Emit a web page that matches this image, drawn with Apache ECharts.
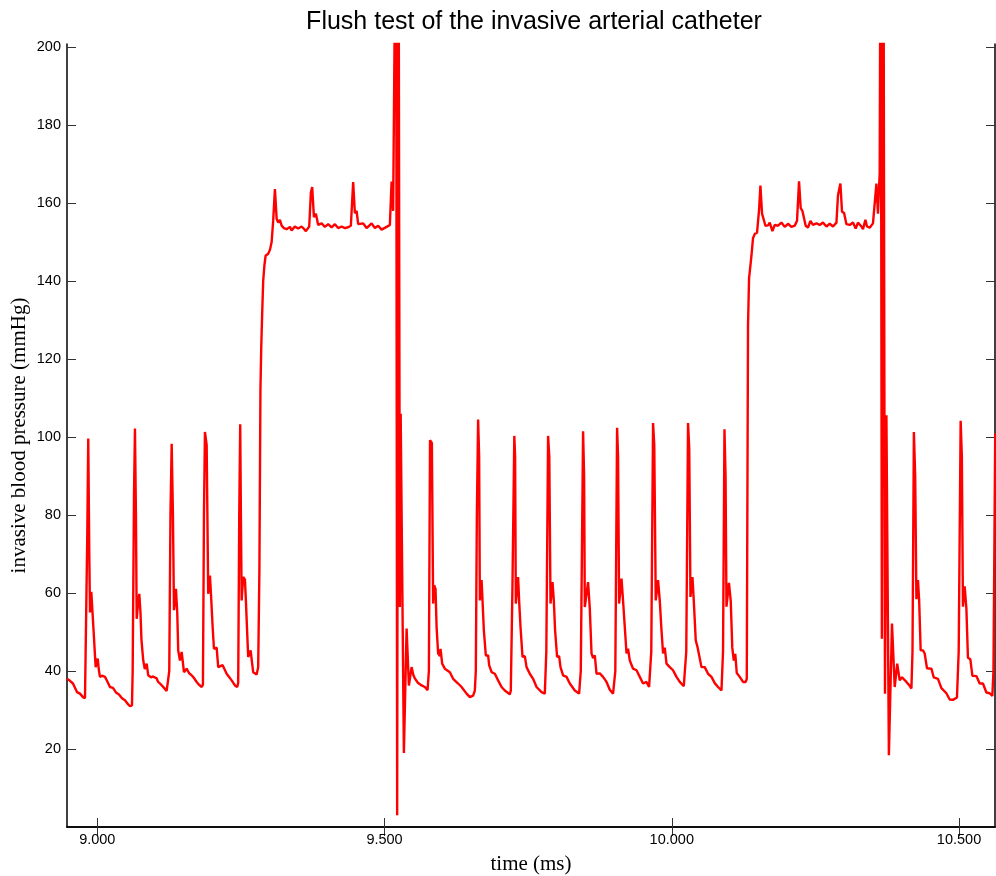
<!DOCTYPE html>
<html>
<head>
<meta charset="utf-8">
<script src="https://cdn.jsdelivr.net/npm/echarts@6/dist/echarts.min.js"></script>
<style>
html,body{margin:0;padding:0;background:#fff;}
#chart{width:996px;height:876px;}
</style>
</head>
<body>
<div id="chart"></div>
<script>
// ---- data ----
const chartTitle = 'Flush test of the invasive arterial catheter';
const xName = 'time (ms)';
const yName = 'invasive blood pressure (mmHg)';
const xTickValues = [9.0, 9.5, 10.0, 10.5];
const yTickValues = [20, 40, 60, 80, 100, 120, 140, 160, 180, 200];
const xRange = [8.9473, 10.5626];
const yRange = [0, 200.8];

// time (ms)
const timeMs = [
8.9473,8.9525,8.9577,8.9647,8.9699,8.9751,8.9786,
8.9809,8.9826,8.9843,8.9861,8.9873,8.9896,8.9920,8.9937,8.9960,8.9972,8.9990,9.0007,9.0030,9.0047,9.0082,9.0134,9.0169,9.0221,9.0273,9.0325,9.0378,9.0430,9.0482,9.0534,9.0569,9.0604,
9.0616,9.0639,9.0656,9.0673,9.0686,9.0708,9.0731,9.0752,9.0769,9.0800,9.0827,9.0860,9.0887,9.0934,9.0969,9.1034,9.1056,9.1091,9.1143,9.1208,9.1235,
9.1253,9.1274,9.1295,9.1317,9.1335,9.1352,9.1369,9.1392,9.1409,9.1439,9.1469,9.1509,9.1556,9.1596,9.1643,9.1683,9.1730,9.1770,9.1817,9.1839,
9.1857,9.1874,9.1904,9.1931,9.1961,9.1978,9.2008,9.2031,9.2078,9.2105,9.2182,9.2252,9.2339,9.2396,9.2436,9.2453,
9.2471,9.2488,9.2500,9.2513,9.2540,9.2570,9.2587,9.2610,9.2627,9.2669,9.2687,9.2714,9.2774,9.2801,
9.2822,9.2840,9.2854,9.2871,9.2888,9.2909,9.2930,9.2975,9.3005,9.3035,9.3062,9.3092,9.3122,9.3149,9.3179,9.3209,9.3249,9.3296,9.3353,9.3383,9.3440,9.3497,9.3557,9.3597,9.3631,9.3689,9.3718,9.3741,9.3771,9.3805,9.3845,9.3905,9.3962,9.4019,9.4079,9.4136,9.4193,9.4253,9.4310,9.4367,9.4414,9.4454,9.4484,9.4514,9.4541,9.4628,9.4688,9.4775,9.4832,9.4889,9.4949,9.5036,9.5093,9.5123,9.5150,9.5180,
9.5201,9.5220,9.5243,9.5267,9.5281,9.5337,9.5384,9.5424,9.5471,9.5502,9.5528,9.5580,9.5645,9.5702,9.5749,9.5772,
9.5792,9.5824,9.5846,9.5864,9.5888,9.5906,9.5933,9.5963,9.5975,9.6003,9.6050,9.6137,9.6194,9.6281,9.6341,9.6428,9.6485,9.6542,9.6572,9.6589,9.6607,
9.6629,9.6647,9.6659,9.6689,9.6706,9.6729,9.6763,9.6803,9.6821,9.6863,9.6920,9.6977,9.7037,9.7094,9.7181,9.7198,9.7225,
9.7259,9.7273,9.7285,9.7325,9.7343,9.7367,9.7402,9.7442,9.7472,9.7529,9.7586,9.7646,9.7733,9.7790,9.7816,
9.7847,9.7868,9.7889,9.7924,9.7947,9.7969,9.8004,9.8039,9.8063,9.8108,9.8168,9.8225,9.8312,9.8387,9.8416,
9.8456,9.8474,9.8486,9.8543,9.8573,9.8603,9.8630,9.8660,9.8690,9.8747,9.8804,9.8864,9.8921,9.8978,9.9017,
9.9048,9.9065,9.9083,9.9125,9.9152,9.9182,9.9212,9.9239,9.9269,9.9326,9.9386,9.9443,9.9500,9.9560,9.9605,9.9643,
9.9674,9.9695,9.9721,9.9761,9.9791,9.9821,9.9848,9.9878,9.9908,9.9965,10.0022,10.0082,10.0139,10.0209,10.0252,
10.0283,10.0304,10.0325,10.0360,10.0383,10.0417,10.0447,10.0475,10.0517,10.0574,10.0631,10.0691,10.0748,10.0805,10.0865,10.0892,
10.0917,10.0936,10.0952,10.0995,10.1026,10.1053,10.1079,10.1105,10.1131,10.1183,10.1240,10.1287,10.1305,
10.1327,10.1345,10.1369,10.1387,10.1414,10.1444,10.1484,10.1519,10.1543,10.1571,10.1601,10.1630,10.1675,10.1705,10.1752,10.1792,10.1849,10.1909,10.1966,10.2023,10.2083,10.2140,10.2180,10.2215,10.2244,10.2274,10.2297,10.2331,10.2371,10.2413,10.2458,10.2518,10.2575,10.2632,10.2692,10.2749,10.2806,10.2866,10.2893,10.2935,10.2963,10.2998,10.3040,10.3097,10.3154,10.3201,10.3241,10.3271,10.3301,10.3328,10.3370,10.3398,10.3445,10.3502,10.3532,10.3562,10.3589,10.3619,
10.3636,10.3657,10.3683,10.3711,10.3736,10.3779,10.3833,10.3880,10.3924,10.3967,10.4007,10.4084,10.4141,10.4171,10.4190,
10.4214,10.4237,10.4258,10.4285,10.4306,10.4332,10.4372,10.4402,10.4442,10.4519,10.4559,10.4633,10.4693,10.4780,10.4837,10.4894,10.4964,10.4994,
10.5028,10.5049,10.5068,10.5098,10.5128,10.5155,10.5197,10.5232,10.5302,10.5359,10.5416,10.5476,10.5533,10.5580,10.5599,10.5630
];

// pressure (mmHg)
const pressure = [
38.0,37.5,36.8,34.6,34.2,33.3,33.0,
33.5,75,99.6,70,55,60.3,60,50,44,41,42,43.2,40,38.5,38.8,38.5,37.5,35.9,35.7,34.5,34,33,32.5,31.5,31.0,31.2,
40,85,102.2,80,53.4,57,59.8,55,48,42.7,40.5,41.9,38.9,38.4,38.6,38.1,37.3,36.8,36,34.9,34.6,
40,80,98.3,80,55.6,58,61.1,55,45.3,42.7,44.9,39.7,40.6,39.5,38.9,38.2,37.2,36.5,35.9,36.5,
80,101.3,98,59.8,64.5,60,51.3,45.7,46,41,41.5,39.3,37.6,36.3,35.9,37,
80,103.3,80,58.1,64.1,63.5,58,49.6,43.6,45.3,43,39.7,39.1,41,
66,112,123,132,140,144,146.5,147,148,150,155.5,163.6,156,155,155.7,154.2,153.6,153.3,153.9,153,154,153.5,154,153.4,152.8,154,162.7,164.1,156.4,157.3,154.4,154.8,153.9,154.6,153.8,154.6,153.6,154,153.6,153.8,154.2,165.4,157.4,158,154.6,154.8,153.6,154.8,153.6,154.2,153.2,153.9,154.4,165.5,158,158.5,
250,3,250,56.4,106,19,50.9,36.3,41,39,38.1,37,36.3,35.9,35.1,40,
99.2,98.5,57.3,62,61,51.3,44.5,43.8,45.7,41.9,40.6,39.7,38,36.8,35.9,34.2,33.3,33.7,35,40,80,
104.5,95,58.1,63.3,58,50.4,44,44,41.5,39.7,39.3,37.6,35.9,35,34,35,60,
100.3,95,57.3,64.1,58,51.3,43.6,43.8,41,39.3,38,35.9,34.6,34.2,45,
100.3,95,57.3,62.8,58,50.4,43.6,43.8,41,38.9,38.5,36.8,35,34.2,40,
101.5,90,56.4,62.8,56,44.5,43.3,44,39.3,39.4,38.5,37.2,35.2,34.2,40,
102.4,95,57.3,63.7,58,51.3,44.5,45.7,42.7,40.6,40.2,38.5,36.8,37.2,35.9,45,
103.6,98,58.1,63.3,58,50.4,44.5,46,41.9,41,40.2,38.5,37.2,36.1,45,
103.6,97,59,64.1,58,47.9,46.2,46.5,41,41,39.3,38.5,36.9,35.9,35,45,
102,90,56.5,62.6,58,46,42.7,44.4,39.5,38.5,37.2,37.2,38,
128.5,140.7,141.1,146.5,151,152.1,152.4,158.2,164.5,157.3,157,154.2,154.3,155,152.8,154.4,154.2,155,153.9,154.7,153.9,154.2,155.5,165.6,158.7,158,158.2,154.2,153.7,155.4,154.4,154.8,154.4,155,154,154.7,154,155,162,165,157.8,157.5,154.6,154.4,155,153.5,155,155.4,154,153.3,155.7,154,153.7,154.8,155,165,157.3,167.7,
250,48.3,250,34.2,105.6,18.4,52.2,35.9,41.9,37.6,38.4,37.2,36.2,35.5,45,
101.3,90,58.4,63.3,58,45.3,45.3,44.5,40.7,40.6,38.4,38,35.6,34.3,32.7,32.6,33.2,45,
104.2,95,56.5,61.7,56,43.4,43,38.8,38.7,36.8,36.8,34.5,34.3,33.6,40,101
];

const seriesData = timeMs.map((t, i) => [t, pressure[i]]);

const chart = echarts.init(document.getElementById('chart'), null, {renderer: 'canvas'});

const tickStyle = {show: true, inside: true, length: 9, lineStyle: {color: '#333', width: 1}};
const lineStyleAxis = {show: true, lineStyle: {color: '#000', width: 1.5}};
const labelFont = {fontFamily: 'Liberation Sans, Arial, sans-serif', fontSize: 14.5, color: '#000'};
const nameFont = {fontFamily: 'Liberation Serif, Times New Roman, serif', fontSize: 21, color: '#000'};

chart.setOption({
  animation: false,
  backgroundColor: '#fff',
  title: {
    text: chartTitle,
    left: 529,
    textAlign: 'center',
    top: 5,
    textStyle: {fontFamily: 'Liberation Sans, Arial, sans-serif', fontSize: 25, fontWeight: 'normal', color: '#000'}
  },
  grid: {left: 67, right: 1, top: 44, bottom: 49, containLabel: false, outerBoundsMode: 'none'},
  xAxis: [
    {
      type: 'value', position: 'bottom', min: xRange[0], max: xRange[1],
      name: xName, nameLocation: 'middle', nameGap: 27, nameMoveOverlap: false, nameTextStyle: nameFont,
      axisLine: lineStyleAxis, splitLine: {show: false},
      axisTick: Object.assign({}, tickStyle, {customValues: xTickValues}),
      axisLabel: Object.assign({}, labelFont, {customValues: xTickValues, margin: 5, formatter: v => Number(v).toFixed(3)})
    },
    {
      type: 'value', position: 'top', min: xRange[0], max: xRange[1],
      axisLine: lineStyleAxis, splitLine: {show: false},
      axisTick: Object.assign({}, tickStyle, {customValues: xTickValues}),
      axisLabel: {show: false}
    }
  ],
  yAxis: [
    {
      type: 'value', position: 'left', min: yRange[0], max: yRange[1],
      name: yName, nameLocation: 'middle', nameGap: 37, nameRotate: 90, nameMoveOverlap: false, nameTextStyle: nameFont,
      axisLine: lineStyleAxis, splitLine: {show: false},
      axisTick: Object.assign({}, tickStyle, {customValues: yTickValues}),
      axisLabel: Object.assign({}, labelFont, {customValues: yTickValues, margin: 6})
    },
    {
      type: 'value', position: 'right', min: yRange[0], max: yRange[1],
      axisLine: lineStyleAxis, splitLine: {show: false},
      axisTick: Object.assign({}, tickStyle, {customValues: yTickValues}),
      axisLabel: {show: false}
    }
  ],
  series: [{
    type: 'line',
    xAxisIndex: 0, yAxisIndex: 0,
    data: seriesData,
    showSymbol: false,
    symbol: 'none',
    clip: true,
    lineStyle: {color: '#ff0000', width: 2.4},
    emphasis: {disabled: true}
  }]
});
</script>
</body>
</html>
